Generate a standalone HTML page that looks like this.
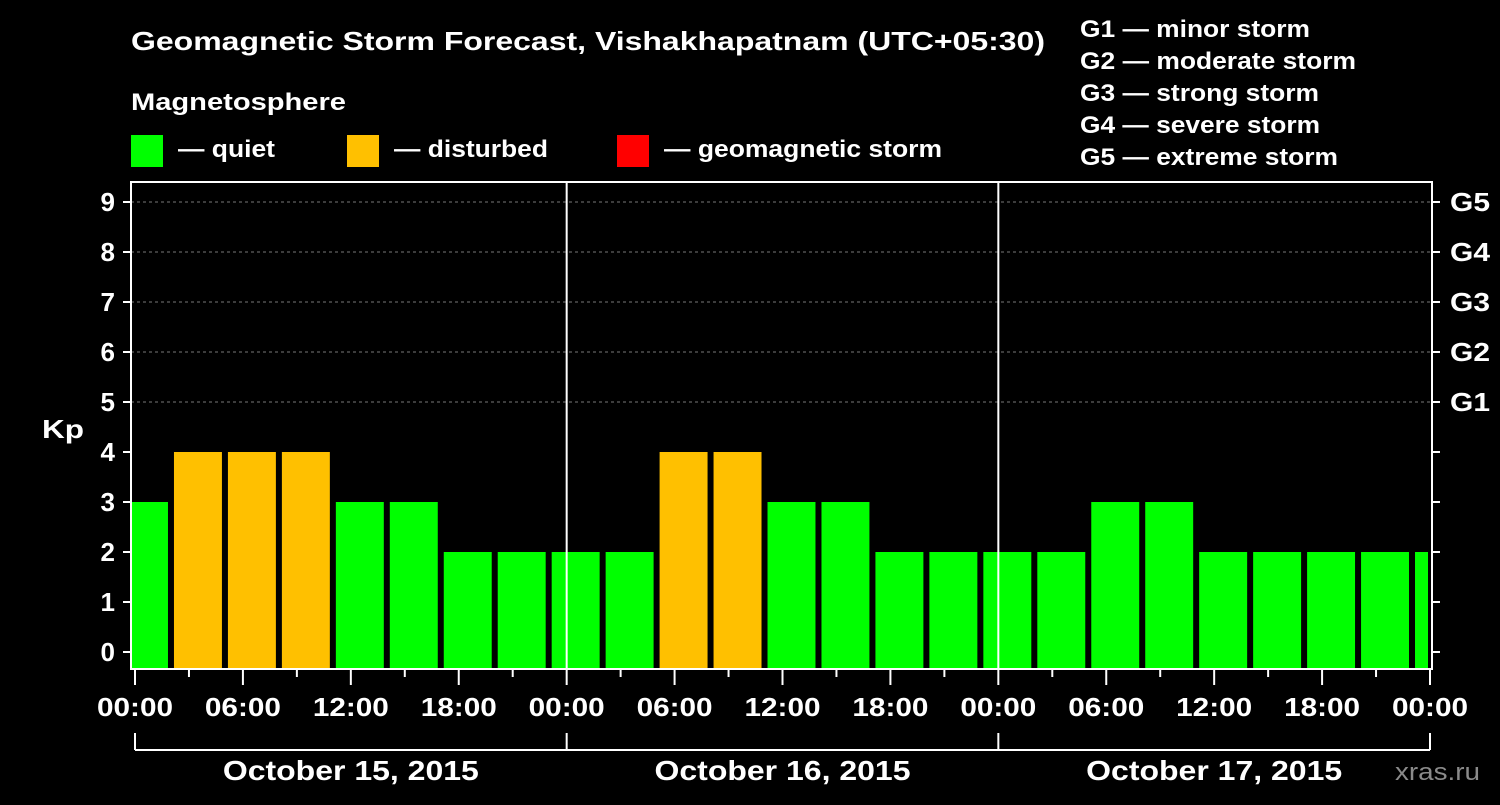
<!DOCTYPE html>
<html><head><meta charset="utf-8"><style>
body{margin:0;background:#000;width:1500px;height:800px;overflow:hidden}
svg text{font-family:"Liberation Sans",Arial,sans-serif;font-weight:bold;fill:#fff}
</style></head><body>
<svg id="chart" width="1500" height="800" viewBox="0 0 1500 800">
<text x="131" y="50" font-size="26" textLength="914" lengthAdjust="spacingAndGlyphs">Geomagnetic Storm Forecast, Vishakhapatnam (UTC+05:30)</text>
<text x="131" y="110" font-size="24" textLength="215" lengthAdjust="spacingAndGlyphs">Magnetosphere</text>
<g><rect x="131" y="135" width="32" height="32" fill="#00ff00"/><text x="178" y="157" font-size="24" textLength="97" lengthAdjust="spacingAndGlyphs">— quiet</text></g>
<g><rect x="347" y="135" width="32" height="32" fill="#ffc000"/><text x="394" y="157" font-size="24" textLength="154" lengthAdjust="spacingAndGlyphs">— disturbed</text></g>
<g><rect x="617" y="135" width="32" height="32" fill="#ff0000"/><text x="664" y="157" font-size="24" textLength="278" lengthAdjust="spacingAndGlyphs">— geomagnetic storm</text></g>
<g font-size="24">
<text x="1080" y="37" textLength="230" lengthAdjust="spacingAndGlyphs">G1 — minor storm</text>
<text x="1080" y="69" textLength="276" lengthAdjust="spacingAndGlyphs">G2 — moderate storm</text>
<text x="1080" y="101" textLength="239" lengthAdjust="spacingAndGlyphs">G3 — strong storm</text>
<text x="1080" y="133" textLength="240" lengthAdjust="spacingAndGlyphs">G4 — severe storm</text>
<text x="1080" y="165" textLength="258" lengthAdjust="spacingAndGlyphs">G5 — extreme storm</text></g>
<text x="42" y="438" font-size="26" textLength="42" lengthAdjust="spacingAndGlyphs">Kp</text>
<text x="1395" y="780" font-size="24" textLength="85" lengthAdjust="spacingAndGlyphs" style="fill:#8a8a8a;font-weight:normal">xras.ru</text>
<g id="plot"></g>
</svg>
<script>
const kpValues=[3,4,4,4,3,3,2,2,2,2,4,4,3,3,2,2,2,2,3,3,2,2,2,2,2];
const yTicks=[0,1,2,3,4,5,6,7,8,9];
const gLabels=["G1","G2","G3","G4","G5"];
const xTickLabels=["00:00","06:00","12:00","18:00","00:00","06:00","12:00","18:00","00:00","06:00","12:00","18:00","00:00"];
const dayLabels=["October 15, 2015","October 16, 2015","October 17, 2015"];
const firstSlotHour=-1;
const NS="http://www.w3.org/2000/svg";
const PL=135,PR=1430,PTOP=182,PBOT=669,frameL=131,frameR=1432;
const xs=h=>PL+h*(PR-PL)/72;
const ys=v=>652-v*50;
const plot=document.getElementById('plot');
function mk(tag,a,parent){const e=document.createElementNS(NS,tag);for(const k in a)e.setAttribute(k,a[k]);(parent||plot).appendChild(e);return e;}
const clip=mk('clipPath',{id:'pc'});mk('rect',{x:frameL+1,y:PTOP,width:PR-frameL-3,height:PBOT-PTOP},clip);
for(let v=5;v<=9;v++){const l=mk('line',{x1:frameL,x2:frameR,y1:ys(v),y2:ys(v),stroke:'#777','stroke-dasharray':'3,3','stroke-width':1});

}
const bg=mk('g',{'clip-path':'url(#pc)'});
kpValues.forEach((v,i)=>{const h0=firstSlotHour+i*3;const x0=xs(h0)+3,x1=xs(h0+3)-3;
const col=v>=5?'#ff0000':(v>=4?'#ffc000':'#00ff00');
const r=mk('rect',{x:x0,y:ys(v),width:x1-x0,height:PBOT-ys(v),fill:col},bg);

});
for(let d=1;d<3;d++){const l=mk('line',{x1:xs(d*24),x2:xs(d*24),y1:PTOP,y2:PBOT,stroke:'#fff','stroke-width':2});

}
const f=mk('rect',{x:frameL,y:PTOP,width:frameR-frameL,height:PBOT-PTOP,fill:'none',stroke:'#fff','stroke-width':2});


yTicks.forEach(v=>{mk('line',{x1:123,x2:frameL,y1:ys(v),y2:ys(v),stroke:'#fff','stroke-width':2});
mk('line',{x1:frameR,x2:1440,y1:ys(v),y2:ys(v),stroke:'#fff','stroke-width':2});
const t=mk('text',{x:115,y:ys(v)+9,'font-size':26,'text-anchor':'end'});t.textContent=v;

});
gLabels.forEach((g,i)=>{const t=mk('text',{x:1450,y:ys(5+i)+9,'font-size':26,textLength:40,lengthAdjust:'spacingAndGlyphs'});t.textContent=g;

});
for(let h=0;h<=72;h+=3){const major=h%6===0;mk('line',{x1:xs(h),x2:xs(h),y1:PBOT,y2:PBOT+(major?16:8),stroke:'#fff','stroke-width':2});}
xTickLabels.forEach((s,i)=>{const t=mk('text',{x:xs(i*6)-38,y:716,'font-size':26,textLength:76,lengthAdjust:'spacingAndGlyphs'});t.textContent=s;

});
mk('line',{x1:xs(0),x2:xs(72),y1:750,y2:750,stroke:'#fff','stroke-width':2});
for(let d=0;d<=3;d++)mk('line',{x1:xs(d*24),x2:xs(d*24),y1:733,y2:750,stroke:'#fff','stroke-width':2});
dayLabels.forEach((s,i)=>{const t=mk('text',{x:xs(i*24+12)-128,y:780,'font-size':28,textLength:256,lengthAdjust:'spacingAndGlyphs'});t.textContent=s;

});
</script>
</body></html>
